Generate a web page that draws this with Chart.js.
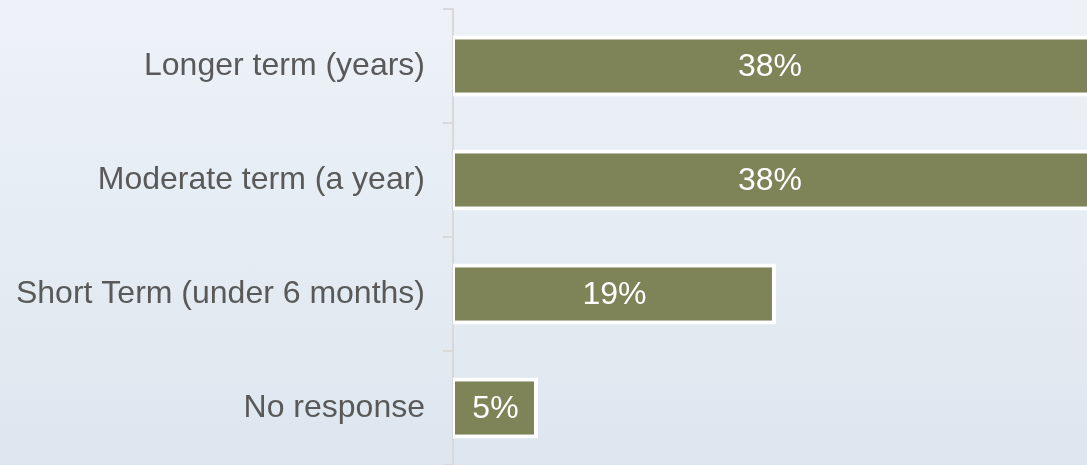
<!DOCTYPE html>
<html>
<head>
<meta charset="utf-8">
<script src="https://cdn.jsdelivr.net/npm/chart.js@4"></script>
<style>
  html, body { margin: 0; padding: 0; }
  body {
    width: 1087px; height: 465px; overflow: hidden;
    background: linear-gradient(180deg, #eef2f8 0%, #dde6ef 100%);
  }
  canvas { display: block; }
</style>
</head>
<body>
<canvas id="chart" width="1087" height="465"></canvas>
<script>
const categories = ['Longer term (years)', 'Moderate term (a year)', 'Short Term (under 6 months)', 'No response'];
const shares = [38, 38, 19, 5];
const valueLabels = ['38%', '38%', '19%', '5%'];

const FONT = '"Liberation Sans", Arial, sans-serif';

// white labels centred in the visible part of each bar
const barLabels = {
  id: 'barLabels',
  afterDatasetsDraw(chart) {
    const { ctx, chartArea } = chart;
    const meta = chart.getDatasetMeta(0);
    ctx.save();
    ctx.fillStyle = '#ffffff';
    ctx.font = '32px ' + FONT;
    ctx.textAlign = 'center';
    ctx.textBaseline = 'middle';
    meta.data.forEach((bar, i) => {
      const left = Math.min(bar.base, bar.x);
      const right = Math.min(Math.max(bar.base, bar.x), chartArea.right);
      ctx.fillText(valueLabels[i], (left + right) / 2, bar.y + 1);
    });
    ctx.restore();
  }
};

new Chart(document.getElementById('chart'), {
  type: 'bar',
  data: {
    labels: categories,
    datasets: [{
      data: shares,
      backgroundColor: '#7f8358',
      borderColor: '#ffffff',
      borderWidth: { top: 4, right: 4, bottom: 4, left: 2 },
      borderSkipped: false,
      categoryPercentage: 1,
      barPercentage: 0.535
    }]
  },
  options: {
    indexAxis: 'y',
    responsive: false,
    animation: false,
    layout: { padding: { top: 9, right: 0, bottom: 0, left: 0 } },
    plugins: { legend: { display: false }, tooltip: { enabled: false } },
    scales: {
      x: { display: false, min: 0, max: 37.3 },
      y: {
        afterFit(scale) {
          scale.width = 453;
          scale.paddingTop = 0;
          scale.paddingBottom = 0;
        },
        border: { display: true, color: '#d9d9d9', width: 2 },
        grid: { offset: true, drawOnChartArea: false, tickLength: 10, color: '#d9d9d9', lineWidth: 2 },
        ticks: {
          padding: 18,
          color: '#595959',
          font: { size: 32, family: FONT }
        }
      }
    }
  },
  plugins: [barLabels]
});
</script>
</body>
</html>
